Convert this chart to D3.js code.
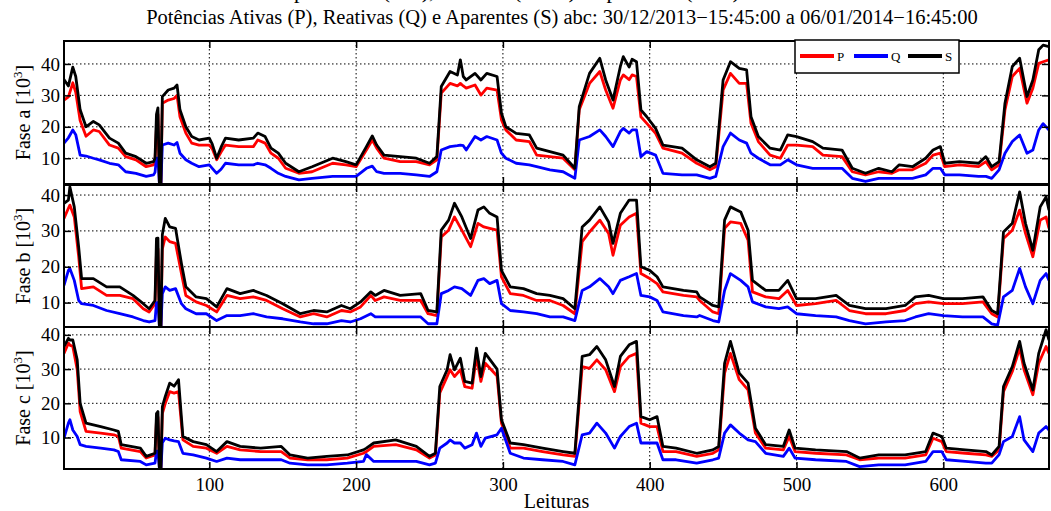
<!DOCTYPE html>
<html>
<head>
<meta charset="utf-8">
<script src="https://cdn.jsdelivr.net/npm/d3@7"></script>
<style>
  body { margin: 0; background: #fff; }
  svg { display: block; font-family: "Liberation Serif", "Times New Roman", serif; }
</style>
</head>
<body>
<svg id="chart" width="1051" height="511"></svg>
<script>
// leituras (x) e potencias [10^3], por fase
const faseA_x = [1,4,7,9,12,16,21,25,32,38,43,50,57,62,63,64,65,66,67,68,72,76,78,80,84,88,93,100,102,105,108,111,120,130,133,138,142,147,152,161,170,184,193,200,207,211,214,219,230,241,250,255,258,264,269,271,273,275,281,285,289,296,299,302,309,318,323,332,341,349,352,359,366,370,375,380,382,386,388,391,394,398,404,409,422,432,441,445,450,455,461,466,469,474,482,489,494,500,511,518,531,538,547,556,565,570,579,588,593,598,601,611,624,629,633,638,642,647,652,657,661,665,668,672];
const faseA_P = [28.5,29.5,34,31,22,17,19,18.5,14.2,13.2,10.5,9.5,7.3,7.9,9,20,24,1.8,1.8,27.5,28.5,29,30,23.2,18,14.8,14.2,14.2,13,9.5,12,14.2,13.7,13.7,15.8,14.8,11.6,10,6.8,5.2,5.7,8.4,7.9,7.3,12.6,15.8,13.2,10,8.9,8.9,7.9,9.5,30.7,33.8,33,33.8,33,32.3,33.3,30.1,32.3,31.7,22.2,19,15.8,15.3,11,10.5,10,6.3,25.4,33.8,37.6,31.7,25.9,34.9,36.5,35,36.5,36,23.2,21.1,17.9,13.2,11.6,8.4,6.3,7.3,31.7,37,33.8,33.8,21.1,15.3,11,10,14.2,14.2,13.7,11,10.5,5.7,4.7,5.7,5.2,6.3,6.3,8.4,11,11.6,7.3,7.9,7.3,8.9,6.3,7.9,25.4,36,38.6,27.5,32.3,40.2,40.7,41.3];
const faseA_Q = [14.8,16.5,19,17.5,11,10.7,10,9.5,8.4,7.9,5.7,5.2,4.2,4.7,5.5,10,10,1.8,1.8,14.2,14.8,14.2,15,11.6,9.5,8.4,7.3,7.9,6.8,5.2,6.5,8.4,7.9,7.9,8.4,7.9,6.8,5.2,4.2,3.1,3.6,4.2,4.2,4.2,6.8,7.5,5.7,5.2,5.2,4.7,4.2,5.7,12.6,13.7,14,14.2,14,12.6,16.9,15.8,16.9,15.8,11.6,10,8.4,7.9,7.3,6.3,5.7,3.6,15.8,16.9,19,16.9,13.7,18.5,19.5,18,19,19,10.5,12.1,11,5.2,4.7,4.7,3.6,4.2,13.7,18,15.8,14.8,11.6,10,7.9,7.9,9.5,7.9,6.8,6.8,6.8,3.6,2.6,3.6,3.6,3.6,3.6,4.7,6.8,6.8,4.7,4.7,4.2,4.2,3.6,6.3,11.6,15.3,17.4,11.6,12.6,19,21,19];
const faseA_S = [35,33,39,36,25.4,20,21.7,20.6,16.4,14.8,11.6,10.5,8.4,8.9,10,24,26,1.8,1.8,29.6,31.7,32.3,33.3,25.4,20,16.9,15.8,16.4,14.5,10,13.5,16.4,15.8,16.4,18,16.9,13.2,11.6,8.4,5.7,7.3,10,8.9,7.9,13.7,17.1,14.2,11,10.5,10,8.4,10.5,32.8,37.6,36.5,41.3,36,34.9,37,34.9,37,36,24.3,20,17.9,17.4,13.2,12.1,11,6.8,26.4,37,41.8,34.9,28.5,39.2,42.3,39,41.5,40.7,25.4,23.2,19.5,14.2,13.2,9.5,7.3,8.4,34.9,40.7,38.6,38.1,23.2,16.9,13.2,12.6,17.4,16.9,15.3,13.2,12.6,6.8,5.2,6.8,5.7,7.9,7.3,10,12.6,13.7,8.4,8.9,8.4,10.5,7.3,8.9,27.5,39.2,41.8,29.6,34.9,44.5,46,45.5];

const faseB_x = [1,4,5,8,11,13,21,30,39,48,55,59,63,64,65,66,67,68,70,73,77,81,84,91,98,105,112,121,130,139,150,162,171,180,190,196,203,210,213,219,230,244,249,255,258,263,267,272,278,283,287,291,296,299,305,314,323,332,341,349,354,359,366,372,375,380,386,391,394,400,405,409,423,432,434,443,447,451,455,462,467,470,479,488,494,500,513,527,536,547,561,574,581,590,600,613,627,633,637,641,647,652,656,661,666,670,672];
const faseB_P = [33.5,36.3,37.2,33.9,22.8,13.9,14.4,12,12,11.1,8.3,7.4,9.7,24,25,3.2,3.2,25,28.3,27,26.5,18.1,12,10.2,9.2,7.4,12,11.1,11.6,10.6,8.3,6,6.9,6,7.8,7.4,8.8,12,10.6,11.6,10.6,10.6,6.9,6.4,28.3,30.2,33.9,30.2,25.6,32.1,31.1,30.7,30.2,17.2,12.5,12,10.6,10.6,9.2,6.9,27,29.7,33,29.3,23.2,31.6,33.9,34.9,18.1,16.7,15.3,13,12,11.6,10.6,7.4,6.9,30.7,32.5,32.1,27.4,13,11.6,11.1,13.4,9.2,9.7,10.6,7.8,6.9,6.9,7.8,9.7,10.2,9.7,9.7,10.2,6.9,6,27.9,30.2,35.8,29.3,22.8,33,33.9,30.7];
const faseB_Q = [14.8,19,19.5,16.2,10.6,9.7,9.2,7.8,6.9,6,5,4.6,5,10,10,3.2,3.2,12.5,14.4,13.4,13.9,9.7,8.3,6.9,6.9,5,6.4,6.4,6.9,6,5.5,4.6,4.1,4.1,5,4.6,5.5,6.9,6,6,6,6,4.1,4.1,12.5,13.4,14.4,13.9,12,16.2,16.7,15.3,16.2,9.7,7.8,7.4,6.9,6,6,5,13.4,14.4,16.7,14.4,12.5,16.2,17.2,18.1,12,11.6,10.6,7.4,6.4,6,6.4,5,4.6,13.4,18.1,16.2,14.4,10.2,8.8,8.3,8.8,6.9,6.4,6,5,4.1,4.6,5,6,6.9,6.4,6,6,4.1,3.7,11.6,13.4,19.5,14.4,9.7,16.2,18.1,16.2];
const faseB_S = [37.7,38.6,42.3,36.7,25.5,16.7,16.7,14.4,14.4,12,9.7,8.3,10.6,27.9,28,3.2,3.2,29,33.5,31.1,30.7,20.9,14.4,11.6,11.1,8.8,13.9,12.5,13.4,12,9.7,6.9,7.8,7.4,9.2,8.3,10.2,13,12,13.4,12,12.5,7.8,7.4,30.2,33,37.7,33.9,27.9,35.8,36.7,34.9,33.9,19,14.4,13.9,12.5,12,11.1,8.3,31.1,33,36.7,32.5,26.5,34.9,38.6,38.6,20,19,17.2,14.4,13.4,13,11.6,9.2,8.8,33,36.7,35.3,30.2,16.2,13.4,13.4,16.2,11.1,11.1,12,9.2,8.3,8.3,9.2,11.6,12,11.1,11.1,11.6,7.8,6.9,29.7,32.1,40.9,32.1,24.6,36.7,39.5,35.8];

const faseC_x = [1,4,5,7,10,12,16,26,35,38,40,53,57,63,64,65,66,67,68,70,73,76,79,82,89,98,105,112,121,135,149,155,167,180,194,205,207,212,227,241,250,254,257,262,264,267,271,274,279,282,285,288,296,299,305,314,327,341,349,354,359,364,370,376,380,386,391,394,400,405,409,418,432,443,447,451,455,461,467,472,479,491,495,499,513,534,543,556,574,588,593,599,602,615,629,633,638,641,647,652,655,661,665,670,672];
const faseC_P = [34.6,37.6,37,36.6,29.8,17.6,11.8,11.3,10.8,10.3,6.9,5.9,4,4.9,15,16,0.8,0.8,17,20,23.4,23,23.4,9.3,7.4,6.9,5.4,7.4,6.4,5.9,5.9,4,3.5,3.5,4,5.4,5.9,7.4,7.9,6.4,4,4.9,23,27.8,29.8,27.8,29.8,24.9,24.4,33.7,26.4,31.7,28,14.2,6.9,6.9,5.9,4.9,4.5,30.7,30.2,32.7,29.8,23.4,30.7,33.7,34.6,14.2,13.2,13.2,5.9,5.9,4.5,5.4,6.4,28.8,34.6,26.9,23.9,11.3,6.9,6.4,10.3,5.9,5.4,4.9,3.5,4,4,4.9,9.8,8.8,5.9,5.4,4.9,4.5,6.4,23.4,29.3,36.1,29.8,22.5,31.7,36.6,34.6];
const faseC_Q = [9.8,14.2,15.2,12.2,10.3,7.9,7.4,6.9,6.4,5.9,3.5,3,2,2.5,6,6,0.8,0.8,8.5,9.8,9.3,9,8.8,5.4,4.9,4,3,4,3.5,3.5,3.5,2.5,2,2,2.5,3,5,3,3,3,2,2.5,6.9,8.4,9.3,8.4,8.4,6.9,7.9,11.3,7.4,9.8,10.8,12.7,5.4,4,3.5,3,2,10.8,11.3,14.2,11.3,6.9,10.3,13.2,14.2,8.4,8.4,8.4,3.5,3.5,2.5,3.5,4,11.3,13.7,11.3,9.3,8.8,5.4,4.5,6.9,4,3.5,3,1.5,2,2,3,5.9,5.9,3.5,3,2.5,2.5,5,8.8,10.3,16.1,9.3,5.9,11.3,13.2,12.2];
const faseC_S = [36.6,39,38.5,38.5,32.7,20,14.2,13.2,12.2,11.8,7.9,6.9,4.5,5.4,17,17.6,0.8,0.8,19,22,25.9,25,26.9,10.3,8.8,7.9,5.9,8.8,7.4,6.9,7.4,4.9,4,4.5,4.9,6.4,6.9,8.4,9.3,7.4,4.5,5.4,24.9,29.8,34.2,29.8,33.2,26.4,25.9,36.1,27.8,34.6,30,15.2,8.4,7.9,6.9,5.9,5.4,33.7,34.2,36.6,32.7,24.9,33.7,37.1,38.1,16.1,15.2,16.1,7.4,6.9,5.4,6.4,7.4,31.7,38.1,28.8,25.9,12.7,7.9,7.4,12.2,6.9,6.4,5.9,4,4.9,4.9,5.9,11.3,10.3,6.9,6.4,5.9,4.9,7.4,24.9,30.7,38.1,31.7,23.9,34.6,41.5,38.5];

const xTicks = [100, 200, 300, 400, 500, 600];
const yTicks = [10, 20, 30, 40];
const seriesNames = ['P', 'Q', 'S'];
const seriesColors = ['#ff0000', '#0000ff', '#000000'];
const fases = ['a', 'b', 'c'];

const titulo = 'Potências Ativas (P), Reativas (Q) e Aparentes (S) abc: 30/12/2013\u221215:45:00 a 06/01/2014\u221216:45:00';

const svg = d3.select('#chart');
const plotL = 64, plotR = 1049;

// cada painel: topo, base e limites do eixo y
const panels = [
    {top: 41, bottom: 184, domain: [1.8, 47.3], xs: faseA_x, series: [faseA_P, faseA_Q, faseA_S]},
    {top: 185, bottom: 327, domain: [3.2, 42.8], xs: faseB_x, series: [faseB_P, faseB_Q, faseB_S]},
    {top: 327, bottom: 469, domain: [0.8, 42.3], xs: faseC_x, series: [faseC_P, faseC_Q, faseC_S]}
];

const x = d3.scaleLinear().domain([1, 672]).range([plotL, plotR]);

// linha de legenda cortada no topo (pagina anterior)
svg.append('text')
    .attr('x', 200).attr('y', -2)
    .attr('font-size', 22)
    .text('Curvas de potências (kW), reativas (kVAr) e aparentes (kVA)');

svg.append('text')
    .attr('x', 562).attr('y', 24)
    .attr('text-anchor', 'middle')
    .attr('font-size', 20.5)
    .text(titulo);

panels.forEach((p, i) => {
    const y = d3.scaleLinear().domain(p.domain).range([p.bottom, p.top]);
    const g = svg.append('g');

    g.append('clipPath').attr('id', 'clip' + i)
        .append('rect')
        .attr('x', plotL).attr('y', p.top)
        .attr('width', plotR - plotL).attr('height', p.bottom - p.top);

    // grade pontilhada
    g.selectAll('.gy').data(yTicks).join('line')
        .attr('x1', plotL).attr('x2', plotR)
        .attr('y1', d => y(d)).attr('y2', d => y(d))
        .attr('stroke', '#000').attr('stroke-width', 1)
        .attr('stroke-dasharray', '1.5,2.5');
    g.selectAll('.gx').data(xTicks).join('line')
        .attr('x1', d => x(d)).attr('x2', d => x(d))
        .attr('y1', p.top).attr('y2', p.bottom)
        .attr('stroke', '#000').attr('stroke-width', 1)
        .attr('stroke-dasharray', '1.5,2.5');

    // series P, Q, S
    const line = d3.line().x(d => x(d[0])).y(d => y(d[1]));
    p.series.forEach((vals, k) => {
        g.append('path')
            .datum(d3.zip(p.xs, vals))
            .attr('clip-path', 'url(#clip' + i + ')')
            .attr('fill', 'none')
            .attr('stroke', seriesColors[k])
            .attr('stroke-width', 2.8)
            .attr('stroke-linejoin', 'round')
            .attr('d', line);
    });

    // eixos com ticks para dentro
    g.append('g').attr('transform', `translate(${plotL},0)`)
        .call(d3.axisLeft(y).tickValues(yTicks).tickSize(-7).tickPadding(4));
    g.append('g').attr('transform', `translate(${plotR},0)`)
        .call(d3.axisRight(y).tickValues(yTicks).tickSize(-7).tickFormat(''));
    g.append('g').attr('transform', `translate(0,${p.top})`)
        .call(d3.axisTop(x).tickValues(xTicks).tickSize(-7).tickFormat(''));
    g.append('g').attr('transform', `translate(0,${p.bottom})`)
        .call(d3.axisBottom(x).tickValues(xTicks).tickSize(-7).tickPadding(9)
            .tickFormat(i === 2 ? d3.format('d') : ''));

    g.selectAll('.domain').remove();
    g.selectAll('.tick line').attr('stroke', '#000').attr('stroke-width', 1.5);
    g.selectAll('.tick text')
        .attr('font-family', '"Liberation Serif", serif')
        .attr('font-size', 19).attr('fill', '#000');

    g.append('rect')
        .attr('x', plotL).attr('y', p.top)
        .attr('width', plotR - plotL).attr('height', p.bottom - p.top)
        .attr('fill', 'none').attr('stroke', '#000').attr('stroke-width', 2);

    const lbl = g.append('text')
        .attr('transform', `translate(30,${(p.top + p.bottom) / 2}) rotate(-90)`)
        .attr('text-anchor', 'middle')
        .attr('font-size', 20);
    lbl.append('tspan').text('Fase ' + fases[i] + ' [10');
    lbl.append('tspan').attr('font-size', 13).attr('dy', -8).text('3');
    lbl.append('tspan').attr('dy', 8).text(']');
});

svg.append('text')
    .attr('x', (plotL + plotR) / 2).attr('y', 508)
    .attr('text-anchor', 'middle')
    .attr('font-size', 20)
    .text('Leituras');

// legenda
const leg = svg.append('g');
leg.append('rect')
    .attr('x', 795).attr('y', 40).attr('width', 164).attr('height', 33)
    .attr('fill', '#fff').attr('stroke', '#000').attr('stroke-width', 1.5);
const legItems = leg.selectAll('.item').data(seriesNames).join('g')
    .attr('transform', (d, i) => `translate(${800 + i * 54},56)`);
legItems.append('line')
    .attr('x1', 0).attr('x2', 34)
    .attr('stroke', (d, i) => seriesColors[i]).attr('stroke-width', 4);
legItems.append('text')
    .attr('x', 37).attr('y', 4.5)
    .attr('font-size', 13)
    .text(d => d);
</script>
</body>
</html>
